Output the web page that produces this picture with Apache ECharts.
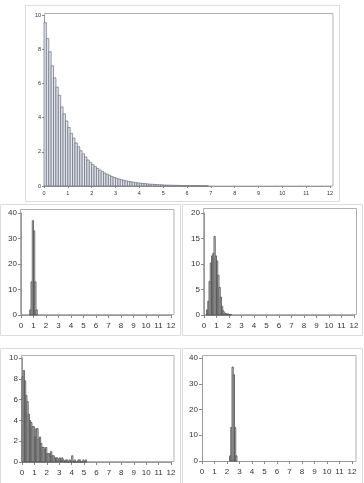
<!DOCTYPE html>
<html>
<head>
<meta charset="utf-8">
<script src="https://cdn.jsdelivr.net/npm/echarts@6/dist/echarts.min.js"></script>
<style>
html,body{margin:0;padding:0;background:#fff;}
#c{width:364px;height:483px;}
</style>
</head>
<body>
<div id="c"></div>
<script>
// ---- data (percent per bin, bin width 0.1) ----
const BIN = 0.1;
const xTicks = [0,1,2,3,4,5,6,7,8,9,10,11,12];

// Top panel: population
const popStart = 0;
const popValues = [9.55, 8.62, 7.85, 7.03, 6.33, 5.78, 5.30, 4.62, 4.22, 3.80,
  3.42, 3.08, 2.80, 2.52, 2.30, 2.06, 1.88, 1.70, 1.52, 1.38,
  1.25, 1.13, 1.03, 0.93, 0.84, 0.76, 0.69, 0.62, 0.56, 0.50,
  0.46, 0.41, 0.37, 0.34, 0.30, 0.27, 0.25, 0.22, 0.20, 0.18,
  0.17, 0.15, 0.14, 0.12, 0.11, 0.10, 0.09, 0.08, 0.075, 0.068,
  0.06, 0.055, 0.05, 0.045, 0.04, 0.036, 0.033, 0.03, 0.027, 0.024,
  0.022, 0.02, 0.018, 0.016, 0.015, 0.013, 0.012, 0.011, 0.01];

// Middle left
const midLeftStarts = [0.7, 0.8, 0.9, 1.0, 1.1, 1.2];
const midLeftValues = [2, 13, 37, 33, 13, 2];

// Middle right
const midRightStarts = [0.2,0.3,0.4,0.5,0.6,0.7,0.8,0.9,1.0,1.1,1.2,1.3,1.4,1.5,1.6,1.7,1.8,1.9,2.0,2.1];
const midRightValues = [1.0,2.7,6.6,10.2,11.6,12.1,15.4,11.6,10.6,7.8,5.4,3.5,1.7,0.8,0.4,0.3,0.2,0.2,0.1,0.1];

// Bottom left: sample
const sampleStart = 0;
const sampleValues = [8.2, 8.8, 7.8, 6.4, 5.8, 4.6, 4.0, 3.8, 3.4, 3.4,
  2.4, 3.2, 3.2, 2.2, 2.4, 1.8, 1.4, 1.4, 1.2, 1.4,
  0.8, 0.8, 0.8, 1.0, 0.6, 0.6, 0.4, 0.4, 0.4, 0.2,
  0.4, 0.2, 0.4, 0.2, 0, 0.2, 0.2, 0, 0.2, 0,
  0.6, 0, 0.2, 0, 0, 0.2, 0.2, 0, 0, 0.2, 0, 0.2];

// Bottom right
const botRightStarts = [2.2, 2.3, 2.4, 2.5, 2.6, 2.7];
const botRightValues = [2, 13, 36.5, 33.5, 13, 2];

// ---- build ----
function rows(starts, values){ return values.map((v,i)=>[starts[i], starts[i]+BIN, v]); }
function rowsFrom(start, values){ return values.map((v,i)=>[+(start+i*BIN).toFixed(2), +(start+(i+1)*BIN).toFixed(2), v]); }

const chart = echarts.init(document.getElementById('c'), null, {renderer:'canvas'});

const panels = [
  {grid:{left:44,top:15,width:286,height:171}, ymax:10, yint:2, data:rowsFrom(popStart,popValues), fs:5.5, fill:'#dfe4ee', stroke:'#6b6f78', lw:0.7, tick:2, ylm:3, xlm:4},
  {grid:{left:21,top:213,width:150,height:102}, ymax:40, yint:10, data:rows(midLeftStarts,midLeftValues), fs:8, fill:'#e6e6e6', stroke:'#4a4a4a', lw:0.8, tick:3, ylm:4, xlm:7},
  {grid:{left:204,top:213,width:150,height:102}, ymax:20, yint:5, data:rows(midRightStarts,midRightValues), fs:8, fill:'#e6e6e6', stroke:'#4a4a4a', lw:0.8, tick:3, ylm:4, xlm:7},
  {grid:{left:22,top:358,width:149,height:104}, ymax:10, yint:2, data:rowsFrom(sampleStart,sampleValues), fs:8, fill:'#e6e6e6', stroke:'#4a4a4a', lw:0.8, tick:3, ylm:4, xlm:7},
  {grid:{left:202,top:358,width:150,height:103}, ymax:40, yint:10, data:rows(botRightStarts,botRightValues), fs:8, fill:'#e6e6e6', stroke:'#4a4a4a', lw:0.8, tick:3, ylm:4, xlm:7}
];

const font = 'Liberation Sans, Arial, sans-serif';
const option = {
  animation:false,
  backgroundColor:'#fff',
  grid: panels.map(p=>Object.assign({containLabel:false}, p.grid)),
  xAxis: panels.map((p,i)=>({
    type:'value', gridIndex:i, min:0, max:12, interval:1,
    splitLine:{show:false},
    axisLine:{show:true, lineStyle:{color:'#999', width:1}},
    axisTick:{show:true, length:p.tick, lineStyle:{color:'#888'}},
    axisLabel:{fontSize:p.fs, color:'#333', margin:p.xlm, fontFamily:font,
      formatter:(v)=> xTicks.indexOf(v)>=0 ? String(v) : ''}
  })),
  yAxis: panels.map((p,i)=>({
    type:'value', gridIndex:i, min:0, max:p.ymax, interval:p.yint,
    splitLine:{show:false},
    axisLine:{show:true, lineStyle:{color:'#999', width:1}},
    axisTick:{show:true, length:p.tick, lineStyle:{color:'#888'}},
    axisLabel:{fontSize:p.fs, color:'#333', margin:p.ylm, fontFamily:font}
  })),
  series: panels.map((p,i)=>({
    type:'custom', xAxisIndex:i, yAxisIndex:i,
    encode:{x:[0,1], y:2},
    data:p.data,
    renderItem:function(params, api){
      const a = api.coord([api.value(0), 0]);
      const b = api.coord([api.value(1), api.value(2)]);
      return {type:'rect', shape:{x:a[0], y:b[1], width:b[0]-a[0], height:a[1]-b[1]},
        style:{fill:p.fill, stroke:p.stroke, lineWidth:p.lw}};
    }
  })),
  graphic: [
    // outer panel boxes
    {type:'rect', shape:{x:25.5,y:5.5,width:314,height:196}, style:{fill:null, stroke:'#dcdcdc', lineWidth:1}, silent:true},
    {type:'rect', shape:{x:0.5,y:204.5,width:180,height:131}, style:{fill:null, stroke:'#dcdcdc', lineWidth:1}, silent:true},
    {type:'rect', shape:{x:182.5,y:204.5,width:180,height:131}, style:{fill:null, stroke:'#dcdcdc', lineWidth:1}, silent:true},
    {type:'rect', shape:{x:0.5,y:348.5,width:180,height:140}, style:{fill:null, stroke:'#dcdcdc', lineWidth:1}, silent:true},
    {type:'rect', shape:{x:182.5,y:348.5,width:180,height:140}, style:{fill:null, stroke:'#dcdcdc', lineWidth:1}, silent:true},
    // plot frames
    {type:'rect', shape:{x:44.5,y:13.5,width:288.5,height:172.5}, style:{fill:null, stroke:'#b0b0b0', lineWidth:1}, silent:true},
    {type:'rect', shape:{x:20.5,y:209.5,width:153.5,height:105}, style:{fill:null, stroke:'#b0b0b0', lineWidth:1}, silent:true},
    {type:'rect', shape:{x:203.5,y:208.5,width:153,height:106}, style:{fill:null, stroke:'#b0b0b0', lineWidth:1}, silent:true},
    {type:'rect', shape:{x:21.5,y:355.5,width:152.5,height:106}, style:{fill:null, stroke:'#b0b0b0', lineWidth:1}, silent:true},
    {type:'rect', shape:{x:202.5,y:355.5,width:153.5,height:106}, style:{fill:null, stroke:'#b0b0b0', lineWidth:1}, silent:true}
  ]
};
chart.setOption(option);
</script>
</body>
</html>
